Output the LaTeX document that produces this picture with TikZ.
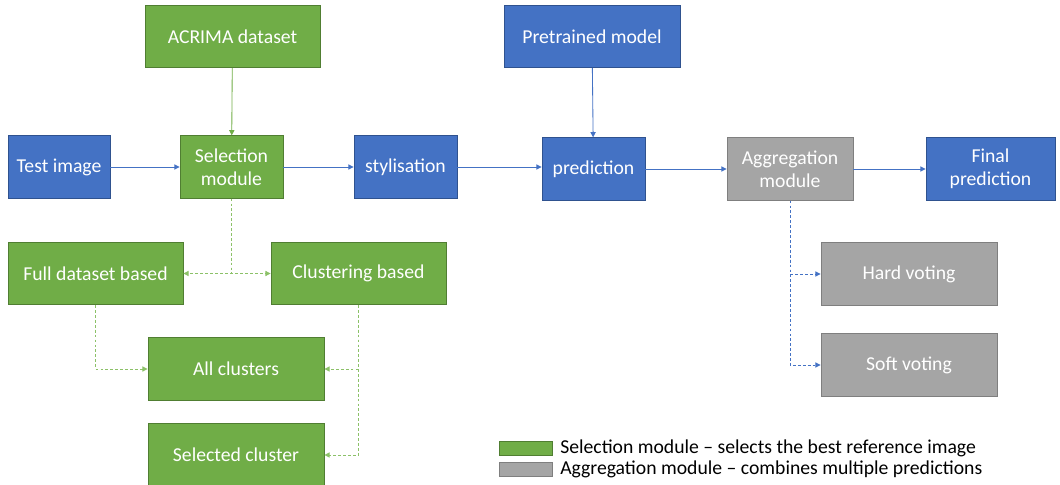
\documentclass[tikz,border=0pt]{standalone}
\usepackage{fontspec}
\setmainfont{Carlito}
\usetikzlibrary{arrows.meta, calc}
\definecolor{selgreen}{HTML}{70AD47}
\definecolor{selgreendk}{HTML}{507E32}
\definecolor{selgreenlt}{HTML}{8CC168}
\definecolor{procblue}{HTML}{4472C4}
\definecolor{procbluedk}{HTML}{2F528F}
\definecolor{agggray}{HTML}{A5A5A5}
\definecolor{agggraydk}{HTML}{7F7F7F}

\begin{document}
\begin{tikzpicture}[
  x=0.025cm, y=-0.025cm,
  >={Triangle[length=1.3mm, width=1.3mm]},
  blk/.style={draw, line width=0.6pt, text=white, minimum height=1.56cm, align=center, inner sep=1pt, font=\fontsize{14}{16.5}\selectfont},
  selbox/.style={blk, fill=selgreen, draw=selgreendk},
  procbox/.style={blk, fill=procblue, draw=procbluedk},
  aggbox/.style={blk, fill=agggray, draw=agggraydk},
  flowb/.style={->, draw=procblue, line width=0.6pt},
  flowg/.style={->, draw=selgreen, line width=0.6pt},
  optg/.style={->, draw=selgreenlt, line width=0.7pt, dash pattern=on 2pt off 1.5pt},
  optb/.style={->, draw=procblue, line width=0.6pt, dash pattern=on 2pt off 1.5pt},
  legtxt/.style={anchor=west, inner sep=0pt, font=\fontsize{14}{16.5}\selectfont}
]
\useasboundingbox (0,0) rectangle (1060,485);

% top inputs
\node[selbox, minimum width=4.375cm] (acrima) at (232.5,36.5) {ACRIMA dataset};
\node[procbox, minimum width=4.4cm]  (pretr)  at (592,36.5)   {Pretrained model};

% main row
\node[procbox, minimum width=2.55cm]  (test)  at (59,167)    {Test image};
\node[selbox, minimum width=2.575cm]  (sel)   at (231.5,167) {Selection\\module};
\node[procbox, minimum width=2.575cm] (styl)  at (405.5,167) {stylisation};
\node[procbox, minimum width=2.575cm] (pred)  at (593.5,169) {prediction};
\node[aggbox, minimum width=3.15cm]   (agg)   at (790,169)   {Aggregation\\module};
\node[procbox, minimum width=3.225cm] (final) at (990.5,169) {Final\\prediction};

% selection options
\node[selbox, minimum width=4.375cm] (full) at (95.5,273.5)  {Full dataset based};
\node[selbox, minimum width=4.375cm] (clus) at (358.5,273.5) {Clustering based};
\node[selbox, minimum width=4.4cm]   (allc) at (236,369)     {All clusters};
\node[selbox, minimum width=4.4cm]   (selc) at (236,455)     {Selected cluster};

% aggregation options
\node[aggbox, minimum width=4.4cm] (hard) at (909,274) {Hard voting};
\node[aggbox, minimum width=4.4cm] (soft) at (909,365) {Soft voting};

% main flow
\draw[flowg] (acrima) -- (sel);
\draw[flowb] (pretr) -- (pred);
\draw[flowb] (test) -- (sel);
\draw[flowb] (sel) -- (styl);
\draw[flowb] (styl.east) -- (styl.east -| pred.west);
\draw[flowb] (pred) -- (agg);
\draw[flowb] (agg) -- (final);

% options
\draw[optg] (sel.south) |- (full.east);
\draw[optg] (sel.south) |- (clus.west);
\draw[optg] (full.south) |- (allc.west);
\draw[optg] (clus.south) |- (allc.east);
\draw[optg] (clus.south) |- (selc.east);
\draw[optb] (agg.south) |- (hard.west);
\draw[optb] (agg.south) |- (soft.west);

% legend
\node[fill=selgreen, draw=selgreendk, line width=0.5pt, minimum width=1.325cm, minimum height=0.35cm, inner sep=0pt] (leg-sel) at (525.5,448) {};
\node[fill=agggray, draw=agggraydk, line width=0.5pt, minimum width=1.325cm, minimum height=0.35cm, inner sep=0pt] (leg-agg) at (525.5,469.5) {};
\node[legtxt] (leg-sel-txt) at (560,448)   {Selection module – selects the best reference image};
\node[legtxt] (leg-agg-txt) at (560,469.5) {Aggregation module – combines multiple predictions};

\end{tikzpicture}
\end{document}
